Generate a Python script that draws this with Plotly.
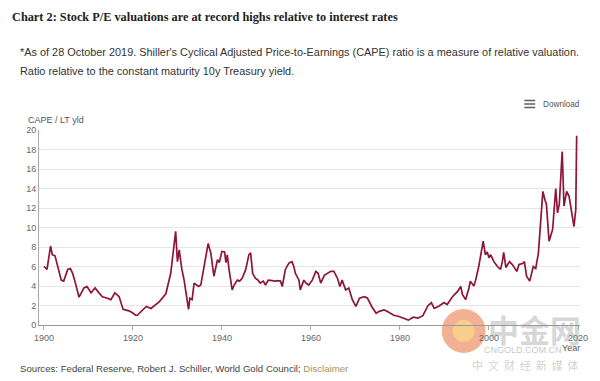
import plotly.graph_objects as go

years = [1900.0, 1900.7, 1901.5, 1901.9, 1902.5, 1903.1, 1903.9, 1904.45, 1905.35, 1905.95,
         1906.45, 1906.9, 1907.9, 1909.0, 1909.7, 1910.6, 1911.5, 1912.1, 1913.15, 1914.25,
         1915.05, 1915.95, 1916.9, 1917.8, 1919.1, 1919.9, 1920.6, 1921.0, 1923.0, 1924.05,
         1925.95, 1927.4, 1928.5, 1929.6, 1930.0, 1930.4, 1931.0, 1931.5, 1932.5, 1932.8,
         1933.3, 1933.75, 1934.25, 1934.75, 1935.25, 1936.25, 1936.9, 1937.5, 1938.2, 1939.0,
         1939.4, 1940.0, 1940.6, 1940.9, 1941.2, 1941.6, 1942.3, 1942.75, 1943.45, 1943.95,
         1944.55, 1945.35, 1946.05, 1946.45, 1946.9, 1947.5, 1948.1, 1948.6, 1949.3, 1949.8,
         1950.4, 1951.3, 1952.0, 1952.45, 1953.15, 1953.55, 1954.25, 1955.05, 1955.75, 1956.15,
         1956.5, 1957.3, 1957.6, 1958.4, 1958.9, 1959.5, 1960.3, 1961.1, 1961.6, 1962.2,
         1963.0, 1964.45, 1965.15, 1965.95, 1966.5, 1967.0, 1967.8, 1968.5, 1969.3, 1970.1,
         1970.9, 1972.0, 1972.7, 1973.65, 1974.65, 1975.35, 1976.4, 1977.1, 1978.6, 1979.6,
         1980.7, 1981.9, 1983.0, 1984.05, 1985.15, 1986.25, 1987.05, 1987.7, 1988.8, 1989.9,
         1990.6, 1991.8, 1992.95, 1993.65, 1994.05, 1994.75, 1995.5, 1995.8, 1996.6, 1997.0,
         1997.7, 1998.7, 1999.2, 1999.6, 2000.0, 2000.4, 2001.1, 2001.9, 2002.6, 2003.0,
         2003.3, 2003.8, 2004.6, 2005.25, 2006.25, 2006.75, 2007.55, 2007.95, 2008.45, 2009.15,
         2009.95, 2010.5, 2011.1, 2011.6, 2012.1, 2012.6, 2012.9, 2013.5, 2014.3, 2015.0,
         2015.4, 2015.8, 2016.45, 2016.85, 2017.45, 2018.0, 2018.7, 2019.1, 2019.5, 2019.7]

cape_ratio = [6.0, 5.7, 8.1, 7.2, 7.1, 6.0, 4.6, 4.5, 5.7, 5.8,
              5.3, 4.6, 2.85, 3.8, 3.95, 3.3, 3.8, 3.45, 2.9, 2.75,
              2.6, 3.3, 2.9, 1.6, 1.45, 1.25, 1.0, 1.0, 1.9, 1.7,
              2.4, 3.2, 5.3, 9.6, 6.5, 7.7, 5.7, 4.6, 1.6, 2.75,
              2.6, 4.3, 4.1, 3.95, 4.1, 6.9, 8.35, 7.4, 5.0, 6.7,
              6.4, 7.55, 7.5, 6.4, 7.2, 5.7, 3.6, 4.1, 4.6, 4.5,
              4.8, 5.7, 7.2, 7.4, 5.3, 4.8, 4.6, 4.3, 4.5, 4.1,
              4.6, 4.55, 4.5, 4.55, 4.5, 3.95, 5.7, 6.35, 6.5, 6.0,
              5.3, 4.6, 3.6, 4.6, 4.3, 4.1, 4.6, 5.5, 5.3, 4.3,
              5.1, 5.5, 5.5, 4.8, 3.95, 4.6, 3.6, 3.8, 2.6, 1.9,
              2.75, 2.9, 2.75, 1.9, 1.2, 1.4, 1.55, 1.4, 1.0, 0.9,
              0.7, 0.5, 0.8, 0.7, 0.95, 1.95, 2.3, 1.7, 1.95, 2.3,
              2.1, 2.9, 3.45, 3.95, 3.1, 2.6, 3.8, 4.5, 4.0, 4.6,
              6.0, 8.6, 7.2, 7.5, 6.9, 7.2, 6.5, 6.0, 5.7, 6.5,
              7.45, 5.9, 6.5, 6.2, 5.5, 6.2, 6.3, 6.5, 5.0, 4.5,
              6.0, 5.8, 7.35, 10.1, 13.7, 12.8, 12.4, 8.6, 9.8, 14.0,
              11.5, 12.4, 17.8, 12.2, 13.7, 13.2, 11.1, 10.1, 11.8, 19.4]

x_ticks = [1900, 1920, 1940, 1960, 1980, 2000, 2020]
y_ticks = [0, 2, 4, 6, 8, 10, 12, 14, 16, 18, 20]

title_text = "Chart 2: Stock P/E valuations are at record highs relative to interest rates"
subtitle_1 = "*As of 28 October 2019. Shiller's Cyclical Adjusted Price-to-Earnings (CAPE) ratio is a measure of relative valuation."
subtitle_2 = "Ratio relative to the constant maturity 10y Treasury yield."
sources_text = "Sources: Federal Reserve, Robert J. Schiller, World Gold Council; "

W, H = 600, 381
L, R, T, B = 39, 17, 130, 56
PW, PH = W - L - R, H - T - B

fig = go.Figure()
fig.add_trace(go.Scatter(x=years, y=cape_ratio, mode="lines",
                         line=dict(color="#8e1535", width=1.7), hoverinfo="x+y"))

fig.update_layout(
    width=W, height=H,
    margin=dict(l=L, r=R, t=T, b=B),
    paper_bgcolor="white", plot_bgcolor="white",
    showlegend=False,
    font=dict(family="Liberation Sans, Arial, sans-serif", color="#666666", size=9),
    xaxis=dict(range=[1898.9, 2020.45], tickvals=x_ticks, ticks="outside", ticklen=4,
               tickcolor="#aaaaaa", showgrid=False, showline=True, linecolor="#999999",
               linewidth=1, zeroline=False, tickfont=dict(size=9, color="#666666")),
    yaxis=dict(range=[0, 20], tickvals=y_ticks, showgrid=True, gridcolor="#e6e6e6",
               gridwidth=1, showline=True, linecolor="#aaaaaa", linewidth=1,
               zeroline=False, ticks="", tickfont=dict(size=9, color="#666666")),
)

def px(xp):
    return (xp - L) / PW

def py(yp):
    return (H - B - yp) / PH

def ann(text, x, y, xanchor, font):
    return dict(text=text, x=px(x), y=py(y), xref="paper", yref="paper",
                xanchor=xanchor, yanchor="middle", showarrow=False, font=font)

annotations = [
    # watermark (drawn first, underneath)
    ann("<b>中金网</b>", 586, 328, "right",
        dict(family="Noto Sans CJK SC", size=31, color="rgba(150,150,150,0.4)")),
    ann("CNGOLD.COM.CN", 567, 350, "right", dict(size=9, color="rgba(150,150,150,0.55)")),
    ann("中  文  财  经  新  媒  体", 584, 365, "right",
        dict(family="Noto Sans CJK SC", size=11, color="rgba(150,150,150,0.45)")),
    ann("<b>" + title_text + "</b>", 10, 17, "left",
        dict(family="Liberation Serif, serif", size=12.3, color="#222222")),
    ann(subtitle_1, 18, 52, "left",
        dict(family="Liberation Sans, Arial, sans-serif", size=10.9, color="#333333")),
    ann(subtitle_2, 18, 71, "left",
        dict(family="Liberation Sans, Arial, sans-serif", size=10.9, color="#333333")),
    ann("CAPE / LT yld", 26, 120, "left", dict(size=9, color="#555555")),
    ann("Download", 585, 104, "right", dict(size=8.2, color="#555555")),
    ann("Year", 585, 348, "right", dict(size=9, color="#555555")),
    ann(sources_text + "<span style='color:#a8925c'>Disclaimer</span>", 18, 368, "left",
        dict(size=9.65, color="#444444")),
]
fig.update_layout(annotations=annotations)

shapes = []
for yy in (100.5, 104, 107.5):
    shapes.append(dict(type="line", xref="paper", yref="paper",
                       x0=px(527), x1=px(538), y0=py(yy), y1=py(yy),
                       line=dict(color="#666666", width=1.6)))
shapes.append(dict(type="circle", xref="paper", yref="paper", layer="below",
                   x0=px(444), x1=px(488), y0=py(353), y1=py(309),
                   fillcolor="rgba(235,125,75,0.6)", line=dict(width=0)))
shapes.append(dict(type="circle", xref="paper", yref="paper", layer="below",
                   x0=px(455), x1=px(477), y0=py(342), y1=py(320),
                   fillcolor="rgba(250,215,140,0.75)", line=dict(width=0)))
fig.update_layout(shapes=shapes)

fig.write_html("out.html", config={"displayModeBar": False},
               post_script="document.body.style.margin='0';")
